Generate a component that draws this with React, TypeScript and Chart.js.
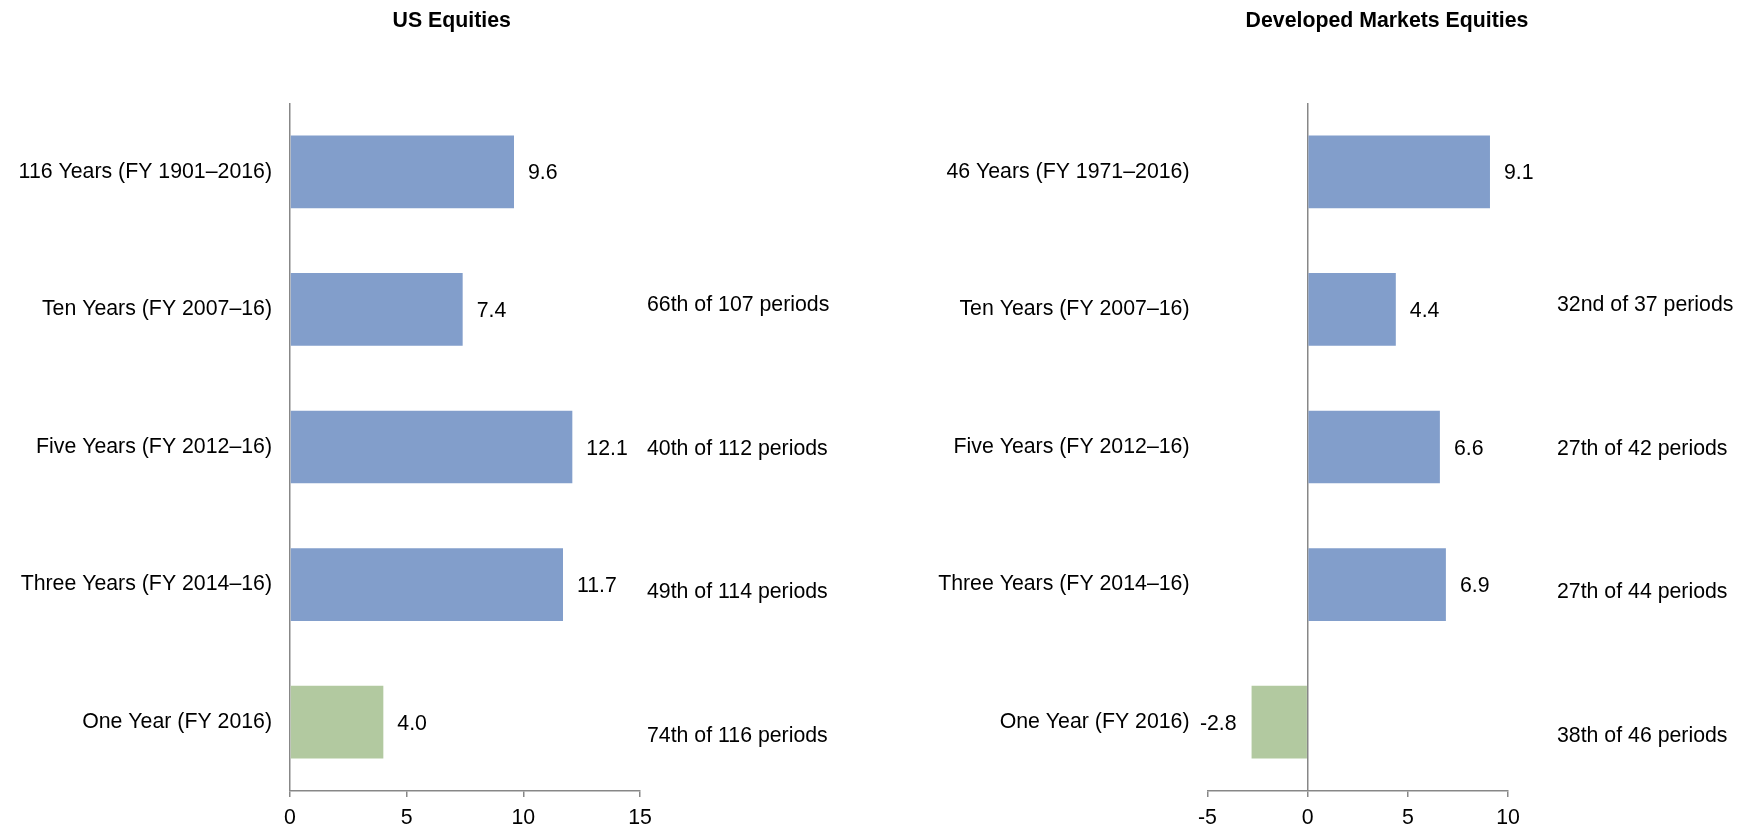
import { useEffect, useRef } from "react";
import { Chart, registerables } from "chart.js";

Chart.register(...registerables);

// ---- data ----
const usCategories = [
  "116 Years (FY 1901–2016)",
  "Ten Years (FY 2007–16)",
  "Five Years (FY 2012–16)",
  "Three Years (FY 2014–16)",
  "One Year (FY 2016)",
];
const usReturns = [9.6, 7.4, 12.1, 11.7, 4.0];
const usRanks = ["", "66th of 107 periods", "40th of 112 periods", "49th of 114 periods", "74th of 116 periods"];
const usTicks = [0, 5, 10, 15];

const dmCategories = [
  "46 Years (FY 1971–2016)",
  "Ten Years (FY 2007–16)",
  "Five Years (FY 2012–16)",
  "Three Years (FY 2014–16)",
  "One Year (FY 2016)",
];
const dmReturns = [9.1, 4.4, 6.6, 6.9, -2.8];
const dmRanks = ["", "32nd of 37 periods", "27th of 42 periods", "27th of 44 periods", "38th of 46 periods"];
const dmTicks = [-5, 0, 5, 10];

// ---- style ----
const FONT = "'Liberation Sans', Arial, sans-serif";
const FONT_SIZE = 21.3;
const TEXT = "#000000";
const AXIS = "#878787";
const MULTI_YEAR = "#829ECB";
const ONE_YEAR = "#B2C9A0";
const PANEL_W = 877;
const PANEL_H = 829;

// Draws the panel title, value labels beside each bar and the ranking notes.
const panelText = {
  id: "panelText",
  afterDatasetsDraw(chart: any, _args: any, opts: any) {
    const { ctx, chartArea } = chart;
    const meta = chart.getDatasetMeta(0);
    const values = chart.data.datasets[0].data as number[];
    const capMid = FONT_SIZE * 0.358;
    ctx.save();
    ctx.fillStyle = TEXT;
    ctx.textBaseline = "alphabetic";
    ctx.font = `${FONT_SIZE}px ${FONT}`;

    meta.data.forEach((bar: any, i: number) => {
      const v = values[i];
      const { x, y } = bar.getProps(["x", "y"], true);
      const label = v.toFixed(1);
      if (v >= 0) {
        ctx.textAlign = "left";
        ctx.fillText(label, x + 14, y + capMid);
      } else {
        ctx.textAlign = "right";
        ctx.fillText(label, x - 15, y + capMid);
      }
    });

    // ranking notes sit on their own evenly spaced rows to the right
    const ranks: string[] = opts.ranks || [];
    const ext = 15.5;
    const rowH = (chartArea.bottom - chartArea.top + ext * 2) / ranks.length;
    ctx.textAlign = "left";
    ranks.forEach((r, i) => {
      if (!r) return;
      const cy = chartArea.top - ext + (i + 0.5) * rowH;
      ctx.fillText(r, chartArea.right + opts.rankOffset, cy + capMid);
    });

    ctx.font = `bold ${FONT_SIZE}px ${FONT}`;
    ctx.textAlign = "center";
    ctx.fillText(opts.title, opts.titleX, 27);
    ctx.restore();
  },
};

function makeConfig(
  categories: string[],
  values: number[],
  ranks: string[],
  ticks: number[],
  yWidth: number,
  padRight: number,
  title: string,
  titleX: number,
  rankOffset: number
): any {
  const font = { family: FONT, size: FONT_SIZE };
  return {
    type: "bar",
    data: {
      labels: categories,
      datasets: [
        {
          data: values,
          backgroundColor: values.map((_, i) => (i === values.length - 1 ? ONE_YEAR : MULTI_YEAR)),
          borderWidth: 0,
          categoryPercentage: 1,
          barPercentage: 0.528,
        },
      ],
    },
    options: {
      indexAxis: "y",
      responsive: false,
      animation: false,
      devicePixelRatio: 1,
      layout: { padding: { left: 0, right: padRight, top: 103, bottom: 0 } },
      plugins: {
        legend: { display: false },
        tooltip: { enabled: false },
        title: { display: false },
        panelText: { title, titleX, ranks, rankOffset },
      },
      scales: {
        x: {
          type: "linear",
          min: ticks[0],
          max: ticks[ticks.length - 1],
          afterBuildTicks: (s: any) => {
            s.ticks = ticks.map((v) => ({ value: v }));
          },
          afterFit: (s: any) => {
            s.height = 38;
          },
          grid: {
            display: true,
            drawOnChartArea: true,
            drawTicks: true,
            tickLength: 6,
            lineWidth: 1.5,
            color: (c: any) => (c.tick && c.tick.value === 0 ? AXIS : "rgba(0,0,0,0)"),
            tickColor: AXIS,
            tickWidth: 1.5,
          },
          border: { display: true, color: AXIS, width: 1.5 },
          ticks: { font, color: TEXT, padding: 8, maxRotation: 0 },
        },
        y: {
          type: "category",
          afterFit: (s: any) => {
            s.width = yWidth;
          },
          grid: { display: false, drawTicks: false },
          border: { display: false },
          ticks: { font, color: TEXT, padding: 18 },
        },
      },
    },
    plugins: [panelText],
  };
}

export default function App() {
  const leftRef = useRef<HTMLCanvasElement | null>(null);
  const rightRef = useRef<HTMLCanvasElement | null>(null);

  useEffect(() => {
    document.body.style.margin = "0";
    const charts: Chart[] = [];
    if (leftRef.current) {
      charts.push(
        new Chart(
          leftRef.current,
          makeConfig(usCategories, usReturns, usRanks, usTicks, 290, PANEL_W - 640, "US Equities", 451.7, 7)
        )
      );
    }
    if (rightRef.current) {
      charts.push(
        new Chart(
          rightRef.current,
          makeConfig(dmCategories, dmReturns, dmRanks, dmTicks, 330.5, PANEL_W - 631, "Developed Markets Equities", 510, 49)
        )
      );
    }
    return () => charts.forEach((c) => c.destroy());
  }, []);

  return (
    <div style={{ position: "relative", width: PANEL_W * 2, height: PANEL_H, background: "#fff" }}>
      <canvas
        ref={leftRef}
        width={PANEL_W}
        height={PANEL_H}
        style={{ position: "absolute", left: 0, top: 0, width: PANEL_W, height: PANEL_H }}
      />
      <canvas
        ref={rightRef}
        width={PANEL_W}
        height={PANEL_H}
        style={{ position: "absolute", left: PANEL_W, top: 0, width: PANEL_W, height: PANEL_H }}
      />
    </div>
  );
}
